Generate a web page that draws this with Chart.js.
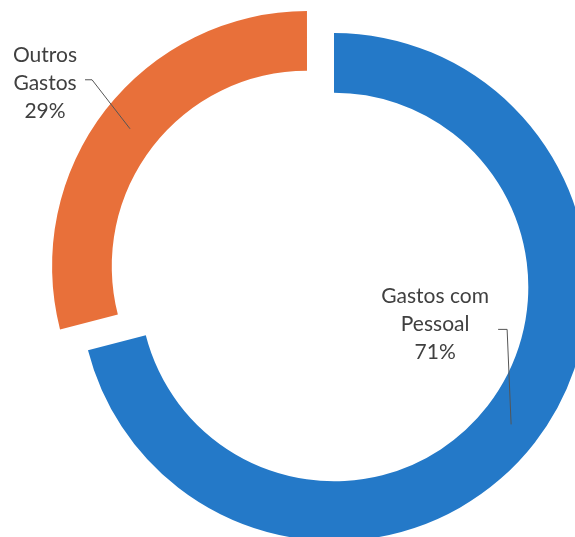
<!DOCTYPE html>
<html>
<head>
<meta charset="utf-8">
<script src="https://cdn.jsdelivr.net/npm/chart.js@4.4.1/dist/chart.umd.min.js"></script>
<style>
  html, body { margin: 0; padding: 0; background: #fff; overflow: hidden; width: 575px; height: 537px; }
  #wrap { position: absolute; left: 12px; top: -35px; width: 644px; height: 644px; }
</style>
</head>
<body>
<div id="wrap"><canvas id="donut"></canvas></div>
<script>
// categories (one entry per label line) and shares
const categories = [['Gastos com', 'Pessoal'], ['Outros', 'Gastos']];
const values = [71, 29];
const colors = ['#2479c8', '#e8703a'];
const explode = [0, 136];

// leader line / label placement relative to the middle of each ring slice
const labelPlacement = [
  { elbow: [-4, -95], tail: -9, textDx: -63, textDy: -5 },
  { elbow: [-38, -49], tail: -7, textDx: -40, textDy: 3 }
];

const leaderLabels = {
  id: 'leaderLabels',
  afterDatasetsDraw(chart) {
    const ctx = chart.ctx;
    const meta = chart.getDatasetMeta(0);
    const total = values.reduce((a, b) => a + b, 0);
    ctx.save();
    meta.data.forEach((arc, i) => {
      const half = (arc.startAngle + arc.endAngle) / 2;
      const r = (arc.options.offset || 0) / 4 + (arc.innerRadius + arc.outerRadius) / 2;
      const ax = arc.x + Math.cos(half) * r;
      const ay = arc.y + Math.sin(half) * r;
      const p = labelPlacement[i];
      const ex = ax + p.elbow[0], ey = ay + p.elbow[1];
      const tx = ex + p.tail;
      ctx.strokeStyle = '#555';
      ctx.lineWidth = 1;
      ctx.beginPath();
      ctx.moveTo(ax, ay);
      ctx.lineTo(ex, ey);
      ctx.lineTo(tx, ey);
      ctx.stroke();

      const lines = categories[i].concat([Math.round(values[i] / total * 100) + '%']);
      ctx.fillStyle = '#404040';
      ctx.font = '21px Lato';
      ctx.textAlign = 'center';
      ctx.textBaseline = 'middle';
      const cx = tx + p.textDx;
      const midY = ey + p.textDy;
      const lh = 28;
      lines.forEach((t, k) => {
        ctx.fillText(t, cx, midY + (k - 1) * lh);
      });
    });
    ctx.restore();
  }
};

new Chart(document.getElementById('donut'), {
  type: 'doughnut',
  data: {
    labels: categories.map(c => c.join(' ')),
    datasets: [{
      data: values,
      backgroundColor: colors,
      borderWidth: 0,
      hoverBorderWidth: 0,
      offset: explode,
      hoverOffset: 0
    }]
  },
  options: {
    responsive: true,
    maintainAspectRatio: false,
    animation: false,
    cutout: '76.5%',
    rotation: 0,
    layout: { padding: 0 },
    plugins: {
      legend: { display: false },
      tooltip: { enabled: false }
    }
  },
  plugins: [leaderLabels]
});
</script>
</body>
</html>
